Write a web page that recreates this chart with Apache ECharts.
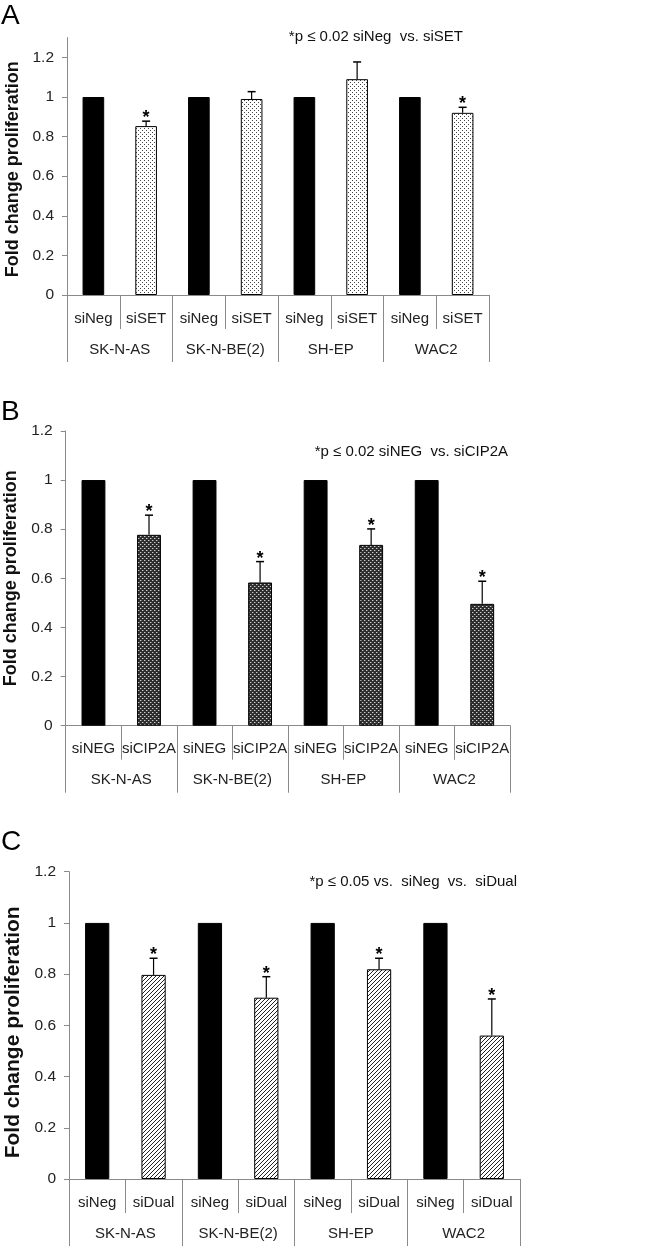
<!DOCTYPE html>
<html>
<head>
<meta charset="utf-8">
<script src="https://cdn.jsdelivr.net/npm/echarts@6/dist/echarts.min.js"></script>
<style>
  html, body { margin: 0; padding: 0; background: #fff; }
  #chart { width: 650px; height: 1250px; }
</style>
</head>
<body>
<div id="chart"></div>
<script>
// ---------------- data ----------------
const groups = ['SK-N-AS', 'SK-N-BE(2)', 'SH-EP', 'WAC2'];
const yTicks = [0, 0.2, 0.4, 0.6, 0.8, 1, 1.2];

// Panel A: siNeg vs siSET
const labelsA = ['siNeg', 'siSET'];
const controlA = [1, 1, 1, 1];
const treatA = [0.853, 0.99, 1.09, 0.92];
const errA = [0.025, 0.037, 0.087, 0.028];
const sigA = [1, 0, 0, 1];
const noteA = '*p \u2264 0.02 siNeg  vs. siSET';

// Panel B: siNEG vs siCIP2A
const labelsB = ['siNEG', 'siCIP2A'];
const controlB = [1, 1, 1, 1];
const treatB = [0.777, 0.583, 0.736, 0.496];
const errB = [0.08, 0.085, 0.065, 0.092];
const sigB = [1, 1, 1, 1];
const noteB = '*p \u2264 0.02 siNEG  vs. siCIP2A';

// Panel C: siNeg vs siDual
const labelsC = ['siNeg', 'siDual'];
const controlC = [1, 1, 1, 1];
const treatC = [0.797, 0.708, 0.819, 0.56];
const errC = [0.065, 0.082, 0.043, 0.143];
const sigC = [1, 1, 1, 1];
const noteC = '*p \u2264 0.05 vs.  siNeg  vs.  siDual';

// ---------------- patterns ----------------
function makePattern(size, draw) {
  const c = document.createElement('canvas');
  c.width = size; c.height = size;
  const ctx = c.getContext('2d');
  draw(ctx);
  return { image: c, repeat: 'repeat' };
}
function px(ctx, x, y, col) { ctx.fillStyle = col; ctx.fillRect(x, y, 1, 1); }

const dotPattern = makePattern(4, ctx => {
  ctx.fillStyle = '#ffffff'; ctx.fillRect(0, 0, 4, 4);
  px(ctx, 0, 0, '#444'); px(ctx, 2, 2, '#444');
});
const checkPattern = makePattern(4, ctx => {
  ctx.fillStyle = '#2e2e2e'; ctx.fillRect(0, 0, 4, 4);
  px(ctx, 0, 0, '#d0d0d0'); px(ctx, 2, 2, '#d0d0d0');
  px(ctx, 1, 0, '#6a6a6a'); px(ctx, 3, 2, '#6a6a6a');
});
const hatchPattern = makePattern(4, ctx => {
  ctx.fillStyle = '#ffffff'; ctx.fillRect(0, 0, 4, 4);
  px(ctx, 3, 0, '#222'); px(ctx, 2, 1, '#222'); px(ctx, 1, 2, '#222'); px(ctx, 0, 3, '#222');
});

// ---------------- layout ----------------
const SANS = "'Liberation Sans', Arial, sans-serif";
const AXIS_GRAY = '#8a8a8a';

const panels = [
  { letter: 'A', labels: labelsA, control: controlA, treat: treatA, err: errA, sig: sigA, note: noteA,
    pattern: dotPattern, grid: { left: 67, right: 161, top: 37.6, bottom: 955 }, max: 1.3, barW: '41%',
    letterTop: 2, noteRight: 187, noteTop: 29, nameGap: 45, nameSize: 18, namePad: [0, 6, 0, 0] },
  { letter: 'B', labels: labelsB, control: controlB, treat: treatB, err: errB, sig: sigB, note: noteB,
    pattern: checkPattern, grid: { left: 65.7, right: 140, top: 430.9, bottom: 524.3 }, max: 1.2, barW: '43%',
    letterTop: 398, noteRight: 142, noteTop: 444, nameGap: 43, nameSize: 18, namePad: [0, 0, 0, 0] },
  { letter: 'C', labels: labelsC, control: controlC, treat: treatC, err: errC, sig: sigC, note: noteC,
    pattern: hatchPattern, grid: { left: 69, right: 130, top: 871.7, bottom: 71 }, max: 1.2, barW: '43%',
    letterTop: 828, noteRight: 133, noteTop: 874, nameGap: 44, nameSize: 21, namePad: [0, 14, 0, 0] }
];

const option = {
  animation: false,
  backgroundColor: '#ffffff',
  title: [], grid: [], xAxis: [], yAxis: [], series: []
};

panels.forEach((p, i) => {
  option.grid.push(Object.assign({ containLabel: false, outerBoundsMode: 'none' }, p.grid));
  option.title.push({ text: p.letter, left: 1, top: p.letterTop, padding: 0,
    textStyle: { fontFamily: SANS, fontSize: 28, fontWeight: 'normal', color: '#000' } });
  option.title.push({ text: p.note, right: p.noteRight, top: p.noteTop, padding: 0,
    textStyle: { fontFamily: SANS, fontSize: 15, fontWeight: 'normal', color: '#111' } });

  const subCats = [];
  groups.forEach(() => { subCats.push(p.labels[0], p.labels[1]); });

  // sub-category axis
  option.xAxis.push({
    type: 'category', gridIndex: i, data: subCats, position: 'bottom',
    axisLine: { show: true, lineStyle: { color: AXIS_GRAY, width: 1 } },
    axisTick: { show: true, interval: 0, length: 34, lineStyle: { color: AXIS_GRAY, width: 1 } },
    axisLabel: { interval: 0, margin: 16, fontFamily: SANS, fontSize: 15, color: '#222' },
    splitLine: { show: false }
  });
  // group axis
  option.xAxis.push({
    type: 'category', gridIndex: i, data: groups, position: 'bottom',
    axisLine: { show: false },
    axisTick: { show: true, interval: 0, length: 67, lineStyle: { color: AXIS_GRAY, width: 1 } },
    axisLabel: { interval: 0, margin: 47, fontFamily: SANS, fontSize: 15, color: '#222' },
    splitLine: { show: false }
  });
  option.yAxis.push({
    type: 'value', gridIndex: i, min: 0, max: p.max, interval: 0.2,
    name: 'Fold change proliferation', nameLocation: 'middle', nameRotate: 90, nameGap: p.nameGap,
    nameTextStyle: { fontFamily: SANS, fontSize: p.nameSize, fontWeight: 'bold', color: '#111', padding: p.namePad },
    axisLine: { show: true, lineStyle: { color: AXIS_GRAY, width: 1 } },
    axisTick: { show: true, inside: false, length: 5, customValues: yTicks, lineStyle: { color: AXIS_GRAY } },
    axisLabel: { margin: 13, customValues: yTicks, fontFamily: SANS, fontSize: 15.5, color: '#222' },
    splitLine: { show: false }
  });

  const barData = [];
  const errData = [];
  groups.forEach((g, k) => {
    barData.push({ value: p.control[k], itemStyle: { color: '#000', borderColor: '#000', borderWidth: 1 } });
    barData.push({ value: p.treat[k], itemStyle: { color: p.pattern, borderColor: '#000', borderWidth: 1 } });
    errData.push([2 * k + 1, p.treat[k], p.err[k], p.sig[k]]);
  });

  option.series.push({
    type: 'bar', xAxisIndex: 2 * i, yAxisIndex: i, data: barData, barWidth: p.barW,
    silent: true
  });
  option.series.push({
    type: 'custom', xAxisIndex: 2 * i, yAxisIndex: i, data: errData, silent: true,
    encode: { x: 0, y: 1 },
    renderItem: function (params, api) {
      const x = api.value(0), v = api.value(1), e = api.value(2), s = api.value(3);
      const p0 = api.coord([x, v]);
      const p1 = api.coord([x, v + e]);
      const children = [
        { type: 'line', shape: { x1: p0[0], y1: p0[1], x2: p1[0], y2: p1[1] }, style: { stroke: '#000', lineWidth: 1.2 } },
        { type: 'line', shape: { x1: p1[0] - 4, y1: p1[1], x2: p1[0] + 4, y2: p1[1] }, style: { stroke: '#000', lineWidth: 1.5 } }
      ];
      if (s) {
        children.push({ type: 'text', x: p1[0], y: p1[1] - 3,
          style: { text: '*', fontFamily: SANS, fontSize: 18, fontWeight: 'bold', fill: '#000', align: 'center', verticalAlign: 'middle' } });
      }
      return { type: 'group', children: children };
    }
  });
});

const chart = echarts.init(document.getElementById('chart'), null, { renderer: 'canvas' });
chart.setOption(option);
</script>
</body>
</html>
